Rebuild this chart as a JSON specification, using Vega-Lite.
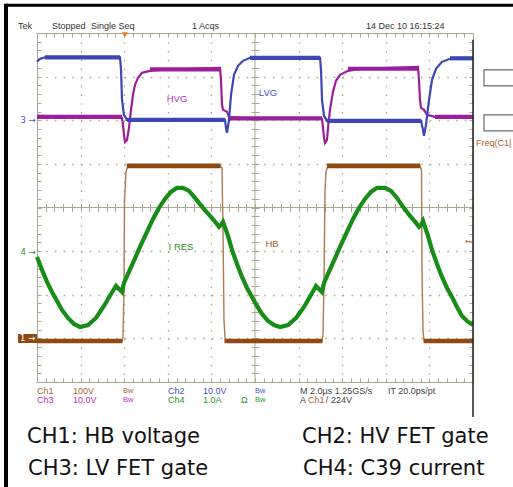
{
  "$schema": "https://vega.github.io/schema/vega-lite/v6.json",
  "width": 436,
  "height": 349,
  "autosize": {"type": "none"},
  "padding": {"left": 37, "top": 33, "right": 40, "bottom": 105},
  "background": "#ffffff",
  "config": {
    "view": {"stroke": "#a9a98f", "strokeWidth": 1},
    "text": {"font": "Liberation Sans"}
  },
  "datasets": {
    "one": [{}],
    "ch2": [
      {"t":0,"v":7.339},{"t":0.069,"v":7.408},{"t":0.183,"v":7.443},{"t":1.904,"v":7.443},{"t":1.927,"v":7.156},{"t":1.95,"v":6.468},{"t":1.995,"v":6.124},{"t":2.064,"v":6.009},{"t":4.312,"v":6.009},{"t":4.335,"v":5.826},{"t":4.358,"v":5.711},{"t":4.404,"v":6.009},{"t":4.45,"v":6.583},{"t":4.518,"v":7.041},{"t":4.61,"v":7.248},{"t":4.725,"v":7.362},{"t":4.885,"v":7.431},{"t":6.491,"v":7.431},{"t":6.514,"v":7.156},{"t":6.537,"v":6.468},{"t":6.583,"v":6.101},{"t":6.651,"v":5.986},{"t":8.807,"v":5.986},{"t":8.853,"v":5.78},{"t":8.876,"v":5.642},{"t":8.922,"v":5.894},{"t":8.991,"v":6.468},{"t":9.06,"v":6.927},{"t":9.151,"v":7.179},{"t":9.289,"v":7.339},{"t":9.472,"v":7.408},{"t":10,"v":7.431}
    ],
    "ch3": [
      {"t":0,"v":6.101},{"t":1.95,"v":6.055},{"t":1.972,"v":5.894},{"t":1.995,"v":5.665},{"t":2.018,"v":5.505},{"t":2.064,"v":5.55},{"t":2.11,"v":5.826},{"t":2.156,"v":6.239},{"t":2.202,"v":6.583},{"t":2.248,"v":6.812},{"t":2.317,"v":6.972},{"t":2.408,"v":7.087},{"t":2.592,"v":7.133},{"t":2.821,"v":7.156},{"t":4.197,"v":7.202},{"t":4.22,"v":6.927},{"t":4.243,"v":6.353},{"t":4.266,"v":6.239},{"t":4.358,"v":6.193},{"t":4.404,"v":6.078},{"t":4.656,"v":6.055},{"t":6.537,"v":6.032},{"t":6.56,"v":5.826},{"t":6.583,"v":5.596},{"t":6.606,"v":5.482},{"t":6.651,"v":5.55},{"t":6.674,"v":5.826},{"t":6.72,"v":6.239},{"t":6.789,"v":6.651},{"t":6.858,"v":6.904},{"t":6.95,"v":7.041},{"t":7.133,"v":7.133},{"t":7.408,"v":7.179},{"t":8.739,"v":7.225},{"t":8.761,"v":6.927},{"t":8.784,"v":6.468},{"t":8.807,"v":6.284},{"t":8.876,"v":6.239},{"t":8.945,"v":6.124},{"t":9.128,"v":6.078},{"t":10,"v":6.078}
    ],
    "ch1": [
      {"t":0,"v":0.94},{"t":1.95,"v":0.94},{"t":1.972,"v":1.009},{"t":1.995,"v":2.11},{"t":2.007,"v":4.174},{"t":2.041,"v":4.817},{"t":2.087,"v":4.954},{"t":4.197,"v":4.954},{"t":4.243,"v":4.908},{"t":4.266,"v":3.486},{"t":4.289,"v":1.422},{"t":4.312,"v":1.009},{"t":4.358,"v":0.94},{"t":6.537,"v":0.94},{"t":6.56,"v":1.078},{"t":6.583,"v":2.339},{"t":6.606,"v":4.404},{"t":6.628,"v":4.817},{"t":6.674,"v":4.954},{"t":8.784,"v":4.954},{"t":8.819,"v":4.862},{"t":8.83,"v":2.569},{"t":8.853,"v":1.193},{"t":8.876,"v":0.94},{"t":10,"v":0.94}
    ],
    "levels": [
      {"ch":"ch1","t":0,"t2":1.96,"v":0.94},{"ch":"ch1","t":4.3,"t2":6.545,"v":0.94},{"ch":"ch1","t":8.87,"t2":10,"v":0.94},
      {"ch":"ch1","t":2.06,"t2":4.21,"v":4.954},{"ch":"ch1","t":6.65,"t2":8.79,"v":4.954},
      {"ch":"ch2","t":0.183,"t2":1.904,"v":7.443},{"ch":"ch2","t":4.885,"t2":6.491,"v":7.431},{"ch":"ch2","t":9.472,"t2":10,"v":7.42},
      {"ch":"ch2","t":2.064,"t2":4.312,"v":6.009},{"ch":"ch2","t":6.651,"t2":8.807,"v":5.986},
      {"ch":"ch3","t":0,"t2":1.95,"v":6.078},{"ch":"ch3","t":4.404,"t2":6.537,"v":6.044},{"ch":"ch3","t":9.128,"t2":10,"v":6.078},
      {"ch":"ch3","t":2.592,"t2":4.197,"v":7.167},{"ch":"ch3","t":7.133,"t2":8.739,"v":7.18}
    ],
    "ch4": [
      {"t":0,"v":2.867},{"t":0.115,"v":2.569},{"t":0.229,"v":2.294},{"t":0.344,"v":2.064},{"t":0.459,"v":1.858},{"t":0.573,"v":1.651},{"t":0.711,"v":1.468},{"t":0.849,"v":1.33},{"t":0.986,"v":1.261},{"t":1.17,"v":1.307},{"t":1.353,"v":1.468},{"t":1.537,"v":1.743},{"t":1.697,"v":2.018},{"t":1.812,"v":2.202},{"t":1.881,"v":2.133},{"t":1.95,"v":2.064},{"t":1.995,"v":2.271},{"t":2.087,"v":2.477},{"t":2.202,"v":2.729},{"t":2.362,"v":3.096},{"t":2.523,"v":3.44},{"t":2.661,"v":3.739},{"t":2.798,"v":3.991},{"t":2.936,"v":4.197},{"t":3.073,"v":4.358},{"t":3.211,"v":4.45},{"t":3.349,"v":4.45},{"t":3.486,"v":4.381},{"t":3.624,"v":4.22},{"t":3.807,"v":3.991},{"t":3.968,"v":3.807},{"t":4.106,"v":3.647},{"t":4.174,"v":3.555},{"t":4.22,"v":3.601},{"t":4.266,"v":3.67},{"t":4.381,"v":3.349},{"t":4.472,"v":3.028},{"t":4.587,"v":2.706},{"t":4.702,"v":2.408},{"t":4.817,"v":2.156},{"t":4.931,"v":1.95},{"t":5.046,"v":1.743},{"t":5.161,"v":1.56},{"t":5.298,"v":1.399},{"t":5.436,"v":1.307},{"t":5.573,"v":1.261},{"t":5.757,"v":1.307},{"t":5.94,"v":1.468},{"t":6.124,"v":1.72},{"t":6.284,"v":1.995},{"t":6.399,"v":2.202},{"t":6.468,"v":2.133},{"t":6.537,"v":2.064},{"t":6.583,"v":2.271},{"t":6.674,"v":2.477},{"t":6.789,"v":2.729},{"t":6.95,"v":3.096},{"t":7.11,"v":3.44},{"t":7.248,"v":3.739},{"t":7.385,"v":3.991},{"t":7.523,"v":4.197},{"t":7.661,"v":4.358},{"t":7.798,"v":4.45},{"t":7.982,"v":4.45},{"t":8.119,"v":4.381},{"t":8.257,"v":4.22},{"t":8.394,"v":4.014},{"t":8.555,"v":3.807},{"t":8.693,"v":3.647},{"t":8.761,"v":3.555},{"t":8.807,"v":3.601},{"t":8.853,"v":3.693},{"t":8.968,"v":3.349},{"t":9.06,"v":3.028},{"t":9.174,"v":2.706},{"t":9.289,"v":2.408},{"t":9.404,"v":2.156},{"t":9.518,"v":1.95},{"t":9.633,"v":1.72},{"t":9.748,"v":1.514},{"t":9.862,"v":1.399},{"t":10,"v":1.307}
    ],
    "boxes": [
      {"t":10.252,"t2":10.95,"v":7.156,"v2":6.789},
      {"t":10.252,"t2":10.95,"v":6.124,"v2":5.757}
    ],
    "texts": [
      {"t":-0.436,"v":8.165,"s":"Tek","g":"top","c":"dark"},
      {"t":0.344,"v":8.165,"s":"Stopped","g":"top","c":"dark"},
      {"t":1.239,"v":8.165,"s":"Single Seq","g":"top","c":"dark"},
      {"t":3.555,"v":8.165,"s":"1 Acqs","g":"top","c":"dark"},
      {"t":7.546,"v":8.165,"s":"14 Dec 10 16:15:24","g":"top","c":"dark"},
      {"t":0,"v":-0.206,"s":"Ch1","g":"foot","c":"ch1"},
      {"t":0.826,"v":-0.206,"s":"100V","g":"foot","c":"ch1"},
      {"t":1.972,"v":-0.206,"s":"Bw","g":"bw","c":"ch1"},
      {"t":3.005,"v":-0.206,"s":"Ch2","g":"foot","c":"ch2"},
      {"t":3.807,"v":-0.206,"s":"10.0V","g":"foot","c":"ch2"},
      {"t":5.0,"v":-0.206,"s":"Bw","g":"bw","c":"ch2"},
      {"t":6.032,"v":-0.206,"s":"M 2.0µs 1.25GS/s","g":"foot","c":"gray"},
      {"t":8.05,"v":-0.206,"s":"IT 20.0ps/pt","g":"foot","c":"gray"},
      {"t":0,"v":-0.413,"s":"Ch3","g":"foot","c":"ch3"},
      {"t":0.826,"v":-0.413,"s":"10.0V","g":"foot","c":"ch3"},
      {"t":1.972,"v":-0.413,"s":"Bw","g":"bw","c":"ch3"},
      {"t":3.005,"v":-0.413,"s":"Ch4","g":"foot","c":"ch4"},
      {"t":3.807,"v":-0.413,"s":"1.0A","g":"foot","c":"ch4"},
      {"t":4.679,"v":-0.413,"s":"Ω","g":"foot","c":"ch4"},
      {"t":5.0,"v":-0.413,"s":"Bw","g":"bw","c":"ch4"},
      {"t":6.032,"v":-0.413,"s":"A","g":"foot","c":"gray"},
      {"t":6.216,"v":-0.413,"s":"Ch1","g":"foot","c":"ch1"},
      {"t":6.62,"v":-0.413,"s":"/","g":"foot","c":"gray"},
      {"t":6.743,"v":-0.413,"s":"224V","g":"foot","c":"gray"},
      {"t":10.069,"v":5.482,"s":"Freq(C1|","g":"foot","c":"ch1"},
      {"t":3.211,"v":6.491,"s":"HVG","g":"lab","c":"ch3"},
      {"t":5.298,"v":6.628,"s":"LVG","g":"lab","c":"ch2"},
      {"t":3.303,"v":3.096,"s":"I RES","g":"lab","c":"ch4"},
      {"t":5.39,"v":3.165,"s":"HB","g":"lab","c":"ch1"},
      {"t":-0.03,"v":6.009,"s":"3 →","g":"mk","c":"ch2"},
      {"t":-0.03,"v":2.982,"s":"4 →","g":"mk","c":"ch4"},
      {"t":9.977,"v":3.234,"s":"←","g":"mk","c":"ch1"},
      {"t":-0.229,"v":-1.399,"s":"CH1: HB voltage","g":"cap","c":"dark"},
      {"t":-0.206,"v":-2.133,"s":"CH3: LV FET gate","g":"cap","c":"dark"},
      {"t":6.078,"v":-1.399,"s":"CH2: HV FET gate","g":"cap","c":"dark"},
      {"t":6.101,"v":-2.133,"s":"CH4: C39 current","g":"cap","c":"dark"}
    ]
  },
  "layer": [
    {
      "data": {"name": "one"},
      "mark": {"type": "rule", "color": "#a9a98f", "strokeWidth": 1},
      "encoding": {"x": {"datum": 5, "type": "quantitative", "scale": {"domain": [0, 10], "nice": false, "zero": false}, "axis": null}}
    },
    {
      "data": {"name": "one"},
      "mark": {"type": "rule", "color": "#a9a98f", "strokeWidth": 1},
      "encoding": {"y": {"datum": 4, "type": "quantitative", "scale": {"domain": [0, 8], "nice": false, "zero": false}, "axis": null}}
    },
    {
      "data": {"name": "ch3"},
      "mark": {"type": "line", "color": "#9b1f9b", "strokeWidth": 2.2},
      "encoding": {
        "x": {"field": "t", "type": "quantitative", "scale": {"domain": [0, 10], "nice": false, "zero": false},
          "axis": {"orient": "bottom", "values": [1,2,3,4,6,7,8,9], "grid": true, "gridColor": "#a9a98f", "gridDash": [1.5, 7.22], "gridWidth": 1.3, "ticks": false, "labels": false, "domain": false, "title": null}},
        "y": {"field": "v", "type": "quantitative", "scale": {"domain": [0, 8], "nice": false, "zero": false},
          "axis": {"orient": "left", "values": [1,2,3,5,6,7], "grid": true, "gridColor": "#a9a98f", "gridDash": [1.5, 7.22], "gridWidth": 1.3, "ticks": false, "labels": false, "domain": false, "title": null}}
      }
    },
    {
      "data": {"name": "levels"},
      "transform": [{"filter": "datum.ch === 'ch3'"}],
      "mark": {"type": "rule", "color": "#9b1f9b", "strokeWidth": 4.2},
      "encoding": {
        "x": {"field": "t", "type": "quantitative", "scale": {"domain": [0, 10], "nice": false, "zero": false}, "axis": null},
        "x2": {"field": "t2"},
        "y": {"field": "v", "type": "quantitative", "scale": {"domain": [0, 8], "nice": false, "zero": false}, "axis": null}
      }
    },
    {
      "data": {"name": "ch2"},
      "mark": {"type": "line", "color": "#3c46b4", "strokeWidth": 2.2},
      "encoding": {
        "x": {"field": "t", "type": "quantitative", "scale": {"domain": [0, 10], "nice": false, "zero": false},
          "axis": {"orient": "top", "offset": -349, "values": [0,0.2,0.4,0.6,0.8,1,1.2,1.4,1.6,1.8,2,2.2,2.4,2.6,2.8,3,3.2,3.4,3.6,3.8,4,4.2,4.4,4.6,4.8,5,5.2,5.4,5.6,5.8,6,6.2,6.4,6.6,6.8,7,7.2,7.4,7.6,7.8,8,8.2,8.4,8.6,8.8,9,9.2,9.4,9.6,9.8,10], "tickSize": 4, "tickColor": "#a9a98f", "grid": false, "labels": false, "domain": false, "title": null}},
        "y": {"field": "v", "type": "quantitative", "scale": {"domain": [0, 8], "nice": false, "zero": false},
          "axis": {"orient": "right", "offset": -436, "values": [0,0.2,0.4,0.6,0.8,1,1.2,1.4,1.6,1.8,2,2.2,2.4,2.6,2.8,3,3.2,3.4,3.6,3.8,4,4.2,4.4,4.6,4.8,5,5.2,5.4,5.6,5.8,6,6.2,6.4,6.6,6.8,7,7.2,7.4,7.6,7.8,8], "tickSize": 4, "tickColor": "#a9a98f", "grid": false, "labels": false, "domain": false, "title": null}}
      }
    },
    {
      "data": {"name": "levels"},
      "transform": [{"filter": "datum.ch === 'ch2'"}],
      "mark": {"type": "rule", "color": "#3c46b4", "strokeWidth": 4.2},
      "encoding": {
        "x": {"field": "t", "type": "quantitative", "scale": {"domain": [0, 10], "nice": false, "zero": false}, "axis": null},
        "x2": {"field": "t2"},
        "y": {"field": "v", "type": "quantitative", "scale": {"domain": [0, 8], "nice": false, "zero": false}, "axis": null}
      }
    },
    {
      "data": {"name": "ch1"},
      "mark": {"type": "line", "color": "#b07a4c", "strokeWidth": 1.4},
      "encoding": {
        "x": {"field": "t", "type": "quantitative", "scale": {"domain": [0, 10], "nice": false, "zero": false},
          "axis": {"orient": "bottom", "offset": -349, "values": [0,0.2,0.4,0.6,0.8,1,1.2,1.4,1.6,1.8,2,2.2,2.4,2.6,2.8,3,3.2,3.4,3.6,3.8,4,4.2,4.4,4.6,4.8,5,5.2,5.4,5.6,5.8,6,6.2,6.4,6.6,6.8,7,7.2,7.4,7.6,7.8,8,8.2,8.4,8.6,8.8,9,9.2,9.4,9.6,9.8,10], "tickSize": 4, "tickColor": "#a9a98f", "grid": false, "labels": false, "domain": false, "title": null}},
        "y": {"field": "v", "type": "quantitative", "scale": {"domain": [0, 8], "nice": false, "zero": false},
          "axis": {"orient": "left", "offset": -436, "values": [0,0.2,0.4,0.6,0.8,1,1.2,1.4,1.6,1.8,2,2.2,2.4,2.6,2.8,3,3.2,3.4,3.6,3.8,4,4.2,4.4,4.6,4.8,5,5.2,5.4,5.6,5.8,6,6.2,6.4,6.6,6.8,7,7.2,7.4,7.6,7.8,8], "tickSize": 4, "tickColor": "#a9a98f", "grid": false, "labels": false, "domain": false, "title": null}}
      }
    },
    {
      "data": {"name": "levels"},
      "transform": [{"filter": "datum.ch === 'ch1'"}],
      "mark": {"type": "rule", "color": "#8e4a12", "strokeWidth": 4.6},
      "encoding": {
        "x": {"field": "t", "type": "quantitative", "scale": {"domain": [0, 10], "nice": false, "zero": false}, "axis": null},
        "x2": {"field": "t2"},
        "y": {"field": "v", "type": "quantitative", "scale": {"domain": [0, 8], "nice": false, "zero": false}, "axis": null}
      }
    },
    {
      "data": {"name": "ch4"},
      "mark": {"type": "line", "color": "#178c17", "strokeWidth": 4.2},
      "encoding": {
        "x": {"field": "t", "type": "quantitative", "scale": {"domain": [0, 10], "nice": false, "zero": false},
          "axis": {"orient": "bottom", "offset": -178.5, "values": [0,0.2,0.4,0.6,0.8,1,1.2,1.4,1.6,1.8,2,2.2,2.4,2.6,2.8,3,3.2,3.4,3.6,3.8,4,4.2,4.4,4.6,4.8,5,5.2,5.4,5.6,5.8,6,6.2,6.4,6.6,6.8,7,7.2,7.4,7.6,7.8,8,8.2,8.4,8.6,8.8,9,9.2,9.4,9.6,9.8,10], "tickSize": 8, "tickColor": "#a9a98f", "grid": false, "labels": false, "domain": false, "title": null}},
        "y": {"field": "v", "type": "quantitative", "scale": {"domain": [0, 8], "nice": false, "zero": false},
          "axis": {"orient": "left", "offset": -222, "values": [0,0.2,0.4,0.6,0.8,1,1.2,1.4,1.6,1.8,2,2.2,2.4,2.6,2.8,3,3.2,3.4,3.6,3.8,4,4.2,4.4,4.6,4.8,5,5.2,5.4,5.6,5.8,6,6.2,6.4,6.6,6.8,7,7.2,7.4,7.6,7.8,8], "tickSize": 8, "tickColor": "#a9a98f", "grid": false, "labels": false, "domain": false, "title": null}}
      }
    },
    {
      "data": {"name": "one"},
      "mark": {"type": "rule", "color": "#000000", "strokeWidth": 3},
      "encoding": {
        "x": {"datum": -0.711, "type": "quantitative", "scale": {"domain": [0, 10], "nice": false, "zero": false}, "axis": null},
        "x2": {"datum": 10.95},
        "y": {"datum": 8.635, "type": "quantitative", "scale": {"domain": [0, 8], "nice": false, "zero": false}, "axis": null}
      }
    },
    {
      "data": {"name": "one"},
      "mark": {"type": "rule", "color": "#000000", "strokeWidth": 4},
      "encoding": {
        "x": {"datum": -0.711, "type": "quantitative", "scale": {"domain": [0, 10], "nice": false, "zero": false}, "axis": null},
        "y": {"datum": 8.67, "type": "quantitative", "scale": {"domain": [0, 8], "nice": false, "zero": false}, "axis": null},
        "y2": {"datum": -2.45}
      }
    },
    {
      "data": {"name": "one"},
      "mark": {"type": "rule", "color": "#222222", "strokeWidth": 1.5},
      "encoding": {
        "x": {"datum": 10, "type": "quantitative", "scale": {"domain": [0, 10], "nice": false, "zero": false}, "axis": null},
        "y": {"datum": 7.844, "type": "quantitative", "scale": {"domain": [0, 8], "nice": false, "zero": false}, "axis": null},
        "y2": {"datum": -0.803}
      }
    },
    {
      "data": {"name": "boxes"},
      "mark": {"type": "rect", "fill": "#ffffff", "stroke": "#6a6a6a", "strokeWidth": 1.2},
      "encoding": {
        "x": {"field": "t", "type": "quantitative", "scale": {"domain": [0, 10], "nice": false, "zero": false}, "axis": null},
        "x2": {"field": "t2"},
        "y": {"field": "v", "type": "quantitative", "scale": {"domain": [0, 8], "nice": false, "zero": false}, "axis": null},
        "y2": {"field": "v2"}
      }
    },
    {
      "data": {"name": "one"},
      "mark": {"type": "rect", "color": "#8e4a12"},
      "encoding": {
        "x": {"datum": -0.436, "type": "quantitative", "scale": {"domain": [0, 10], "nice": false, "zero": false}, "axis": null},
        "x2": {"datum": 0},
        "y": {"datum": 1.101, "type": "quantitative", "scale": {"domain": [0, 8], "nice": false, "zero": false}, "axis": null},
        "y2": {"datum": 0.894}
      }
    },
    {
      "data": {"name": "one"},
      "mark": {"type": "text", "color": "#ffffff", "font": "DejaVu Sans", "fontSize": 8.5, "align": "left", "baseline": "middle"},
      "encoding": {
        "x": {"datum": -0.39, "type": "quantitative", "scale": {"domain": [0, 10], "nice": false, "zero": false}, "axis": null},
        "y": {"datum": 0.9975, "type": "quantitative", "scale": {"domain": [0, 8], "nice": false, "zero": false}, "axis": null},
        "text": {"value": "1 →"}
      }
    },
    {
      "data": {"name": "one"},
      "mark": {"type": "point", "shape": "triangle-down", "filled": true, "color": "#f07818", "size": 35, "opacity": 1},
      "encoding": {
        "x": {"datum": 2.018, "type": "quantitative", "scale": {"domain": [0, 10], "nice": false, "zero": false}, "axis": null},
        "y": {"datum": 7.96, "type": "quantitative", "scale": {"domain": [0, 8], "nice": false, "zero": false}, "axis": null}
      }
    },
    {
      "data": {"name": "texts"},
      "transform": [{"filter": "datum.g === 'top'"}],
      "mark": {"type": "text", "fontSize": 9, "align": "left", "baseline": "middle", "color": "#333333"},
      "encoding": {
        "x": {"field": "t", "type": "quantitative", "scale": {"domain": [0, 10], "nice": false, "zero": false}, "axis": null},
        "y": {"field": "v", "type": "quantitative", "scale": {"domain": [0, 8], "nice": false, "zero": false}, "axis": null},
        "text": {"field": "s"}
      }
    },
    {
      "data": {"name": "texts"},
      "transform": [{"filter": "datum.g === 'foot'"}],
      "mark": {"type": "text", "fontSize": 9, "align": "left", "baseline": "middle"},
      "encoding": {
        "x": {"field": "t", "type": "quantitative", "scale": {"domain": [0, 10], "nice": false, "zero": false}, "axis": null},
        "y": {"field": "v", "type": "quantitative", "scale": {"domain": [0, 8], "nice": false, "zero": false}, "axis": null},
        "text": {"field": "s"},
        "color": {"field": "c", "type": "nominal", "scale": {"domain": ["ch1", "ch2", "ch3", "ch4", "gray", "dark"], "range": ["#a8642e", "#4a50cc", "#b832b8", "#1e961e", "#444444", "#222222"]}, "legend": null}
      }
    },
    {
      "data": {"name": "texts"},
      "transform": [{"filter": "datum.g === 'bw'"}],
      "mark": {"type": "text", "fontSize": 7.5, "align": "left", "baseline": "middle"},
      "encoding": {
        "x": {"field": "t", "type": "quantitative", "scale": {"domain": [0, 10], "nice": false, "zero": false}, "axis": null},
        "y": {"field": "v", "type": "quantitative", "scale": {"domain": [0, 8], "nice": false, "zero": false}, "axis": null},
        "text": {"field": "s"},
        "color": {"field": "c", "type": "nominal", "scale": {"domain": ["ch1", "ch2", "ch3", "ch4", "gray", "dark"], "range": ["#a8642e", "#4a50cc", "#b832b8", "#1e961e", "#444444", "#222222"]}, "legend": null}
      }
    },
    {
      "data": {"name": "texts"},
      "transform": [{"filter": "datum.g === 'lab'"}],
      "mark": {"type": "text", "fontSize": 9.5, "align": "center", "baseline": "middle"},
      "encoding": {
        "x": {"field": "t", "type": "quantitative", "scale": {"domain": [0, 10], "nice": false, "zero": false}, "axis": null},
        "y": {"field": "v", "type": "quantitative", "scale": {"domain": [0, 8], "nice": false, "zero": false}, "axis": null},
        "text": {"field": "s"},
        "color": {"field": "c", "type": "nominal", "scale": {"domain": ["ch1", "ch2", "ch3", "ch4", "gray", "dark"], "range": ["#a8642e", "#4a50cc", "#b832b8", "#1e961e", "#444444", "#222222"]}, "legend": null}
      }
    },
    {
      "data": {"name": "texts"},
      "transform": [{"filter": "datum.g === 'mk'"}],
      "mark": {"type": "text", "font": "DejaVu Sans", "fontSize": 8.5, "align": "right", "baseline": "middle"},
      "encoding": {
        "x": {"field": "t", "type": "quantitative", "scale": {"domain": [0, 10], "nice": false, "zero": false}, "axis": null},
        "y": {"field": "v", "type": "quantitative", "scale": {"domain": [0, 8], "nice": false, "zero": false}, "axis": null},
        "text": {"field": "s"},
        "color": {"field": "c", "type": "nominal", "scale": {"domain": ["ch1", "ch2", "ch3", "ch4", "gray", "dark"], "range": ["#a8642e", "#4a50cc", "#b832b8", "#1e961e", "#444444", "#222222"]}, "legend": null}
      }
    },
    {
      "data": {"name": "texts"},
      "transform": [{"filter": "datum.g === 'cap'"}],
      "mark": {"type": "text", "font": "DejaVu Sans", "fontSize": 21, "align": "left", "baseline": "alphabetic", "color": "#111111"},
      "encoding": {
        "x": {"field": "t", "type": "quantitative", "scale": {"domain": [0, 10], "nice": false, "zero": false}, "axis": null},
        "y": {"field": "v", "type": "quantitative", "scale": {"domain": [0, 8], "nice": false, "zero": false}, "axis": null},
        "text": {"field": "s"}
      }
    }
  ]
}
